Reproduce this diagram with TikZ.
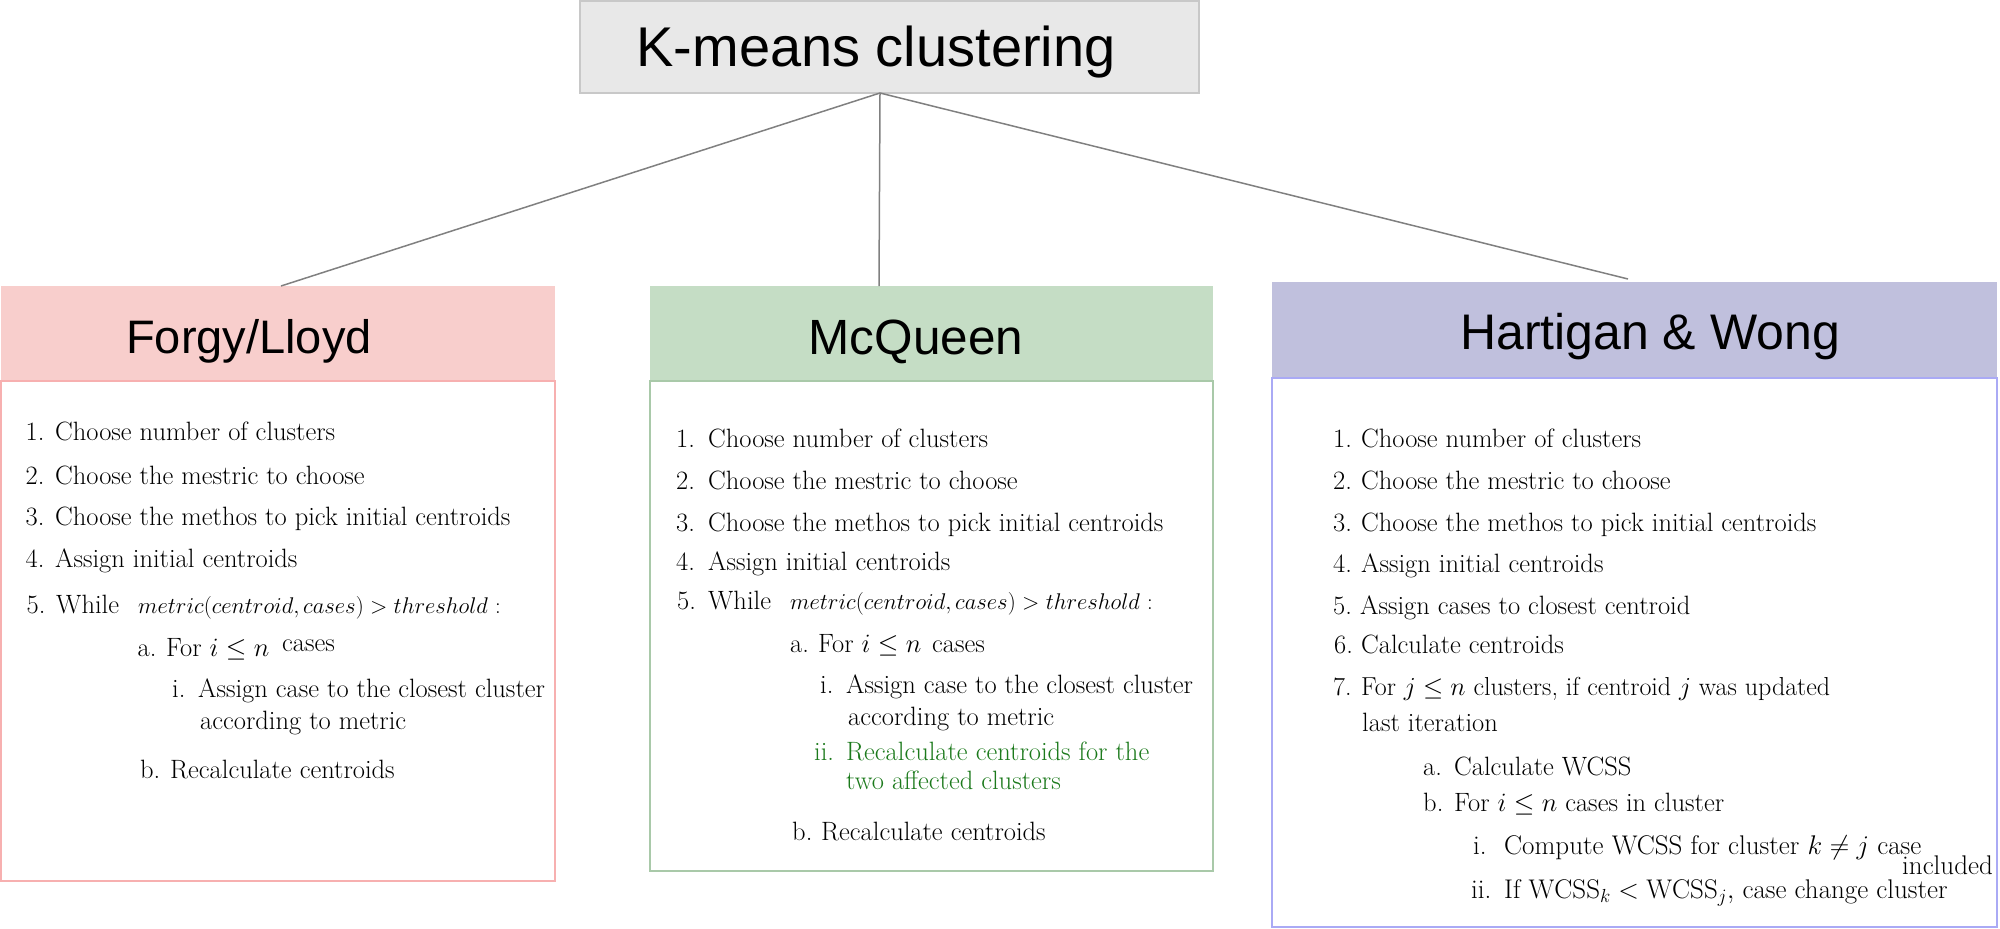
\RequirePackage{fix-cm}
\documentclass[tikz,border=0pt]{standalone}
\usepackage{fontspec}
\newfontfamily\hdrfont{Liberation Sans}
\definecolor{topfill}{HTML}{E8E8E8}
\definecolor{topdraw}{HTML}{C8C8C8}
\definecolor{redfill}{HTML}{F8CECC}
\definecolor{reddraw}{HTML}{F7B0B0}
\definecolor{grnfill}{HTML}{C5DDC5}
\definecolor{grndraw}{HTML}{A9C9A9}
\definecolor{blufill}{HTML}{C0C0DD}
\definecolor{bludraw}{HTML}{AAAAF5}
\definecolor{grntext}{HTML}{1C7A1C}
\definecolor{connclr}{HTML}{808080}
\begin{document}
\begin{tikzpicture}[x=1pt,y=-1pt,
  box/.style={anchor=north west, inner sep=0pt, outer sep=0pt, rectangle},
  conn/.style={draw=connclr, line width=1.5pt},
  hd/.style={font=\hdrfont\fontsize{49}{55}\selectfont, inner sep=0pt, anchor=base},
  bt/.style={font=\fontsize{26.5}{30}\selectfont, inner sep=0pt, anchor=base west},
  bm/.style={font=\fontsize{22.7}{26}\selectfont, inner sep=0pt, anchor=base west},
  bl/.style={font=\fontsize{27}{31}\selectfont, inner sep=0pt, anchor=base west}]
\useasboundingbox (0,0) rectangle (2000,929);
% top box
\node[box, fill=topfill, draw=topdraw, line width=1.5pt, minimum width=619pt, minimum height=92pt] (top) at (580,1) {};
\node[hd, font=\hdrfont\fontsize{56}{62}\selectfont] (ttl) at (876,66) {K-means clustering};
% headers
\node[box, fill=redfill, minimum width=554pt, minimum height=95pt] (fh) at (1,286) {};
\node[box, fill=grnfill, minimum width=563pt, minimum height=95pt] (mh) at (650,286) {};
\node[box, fill=blufill, minimum width=725pt, minimum height=96pt] (hh) at (1272,282) {};
% bodies
\node[box, draw=reddraw, line width=2pt, fill=white, minimum width=554pt, minimum height=500pt] (fb) at (1,381) {};
\node[box, draw=grndraw, line width=2pt, fill=white, minimum width=563pt, minimum height=490pt] (mb) at (650,381) {};
\node[box, draw=bludraw, line width=2pt, fill=white, minimum width=725pt, minimum height=549pt] (hb) at (1272,378) {};
% header titles
\node[hd, font=\hdrfont\fontsize{47}{53}\selectfont] (ft) at (249,353) {Forgy/Lloyd};
\node[hd, font=\hdrfont\fontsize{49.5}{55}\selectfont] (mt) at (916,354) {McQueen};
\node[hd, font=\hdrfont\fontsize{50}{56}\selectfont] (ht) at (1650,349) {Hartigan \& Wong};
% connectors
\path (top.south west) ++(300,0) coordinate (hub);
\path (fh.north west) ++(280,0) coordinate (fend);
\path (mh.north west) ++(229,0) coordinate (mend);
\path (hh.north west) ++(356,-3) coordinate (hend);
\draw[conn] (hub) -- (fend);
\draw[conn] (hub) -- (mend);
\draw[conn] (hub) -- (hend);
% Forgy/Lloyd list
\node[bt] (f1) at (25.5,440) {\makebox[29.5pt][l]{1.}Choose number of clusters};
\node[bt] (f2) at (25.5,484) {\makebox[29.5pt][l]{2.}Choose the mestric to choose};
\node[bt] (f3) at (25.5,525) {\makebox[29.5pt][l]{3.}Choose the methos to pick initial centroids};
\node[bt] (f4) at (25.5,567) {\makebox[29.5pt][l]{4.}Assign initial centroids};
\node[bt] (f5) at (26.5,613) {\makebox[29.5pt][l]{5.}While};
\node[bm] (f5m) at (138,613) {$metric(centroid,cases) > threshold$ :};
\node[bt] (fa) at (137.5,656) {\makebox[28.5pt][l]{a.}For $i\le n$};
\node[bt] (fac) at (282,651) {cases};
\node[bt] (fi) at (172,697) {\makebox[26pt][l]{i.}Assign case to the closest cluster};
\node[bt] (fi2) at (200,729) {according to metric};
\node[bt] (fbb) at (140,778) {\makebox[30pt][l]{b.}Recalculate centroids};
% McQueen list
\node[bt] (m1) at (676,447) {\makebox[32pt][l]{1.}Choose number of clusters};
\node[bt] (m2) at (676,489) {\makebox[32pt][l]{2.}Choose the mestric to choose};
\node[bt] (m3) at (676,531) {\makebox[32pt][l]{3.}Choose the methos to pick initial centroids};
\node[bt] (m4) at (676,570.5) {\makebox[32pt][l]{4.}Assign initial centroids};
\node[bt] (m5) at (677,609) {\makebox[31pt][l]{5.}While};
\node[bm] (m5m) at (790,609) {$metric(centroid,cases) > threshold$ :};
\node[bt] (ma) at (790,652) {\makebox[28pt][l]{a.}For $i\le n$};
\node[bt] (mac) at (932,652) {cases};
\node[bt] (mi) at (820,693) {\makebox[26pt][l]{i.}Assign case to the closest cluster};
\node[bt] (mi2) at (848,725) {according to metric};
\node[bt, text=grntext] (mii) at (814,760.5) {\makebox[32pt][l]{ii.}Recalculate centroids for the};
\node[bt, text=grntext] (mii2) at (846,789) {two affected clusters};
\node[bt] (mbb) at (792,840) {\makebox[29pt][l]{b.}Recalculate centroids};
% Hartigan & Wong list
\node[bt] (h1) at (1333,447) {\makebox[28pt][l]{1.}Choose number of clusters};
\node[bt] (h2) at (1333,489) {\makebox[28pt][l]{2.}Choose the mestric to choose};
\node[bt] (h3) at (1333,531) {\makebox[28pt][l]{3.}Choose the methos to pick initial centroids};
\node[bt] (h4) at (1333,572) {\makebox[28pt][l]{4.}Assign initial centroids};
\node[bt] (h5) at (1333,614) {\makebox[27pt][l]{5.}Assign cases to closest centroid};
\node[bt] (h6) at (1334,653) {\makebox[27pt][l]{6.}Calculate centroids};
\node[bt, font=\fontsize{26}{30}\selectfont] (h7) at (1333,695.5) {\makebox[28pt][l]{7.}For $j\le n$ clusters, if centroid $j$ was updated};
\node[bt] (h7b) at (1362,731) {last iteration};
\node[bt] (ha) at (1423,775) {\makebox[31pt][l]{a.}Calculate WCSS};
\node[bt] (hbb) at (1423,811.6) {\makebox[31pt][l]{b.}For $i\le n$ cases in cluster};
\node[bl] (hi) at (1473,854) {\makebox[31pt][l]{i.}Compute WCSS for cluster $k\neq j$ case};
\node[bl, anchor=base east] (hinc) at (1993,874) {included};
\node[bl] (hii) at (1471,898) {\makebox[33pt][l]{ii.}If $\mathrm{WCSS}_k<\mathrm{WCSS}_j,$ case change cluster};
\end{tikzpicture}
\end{document}
